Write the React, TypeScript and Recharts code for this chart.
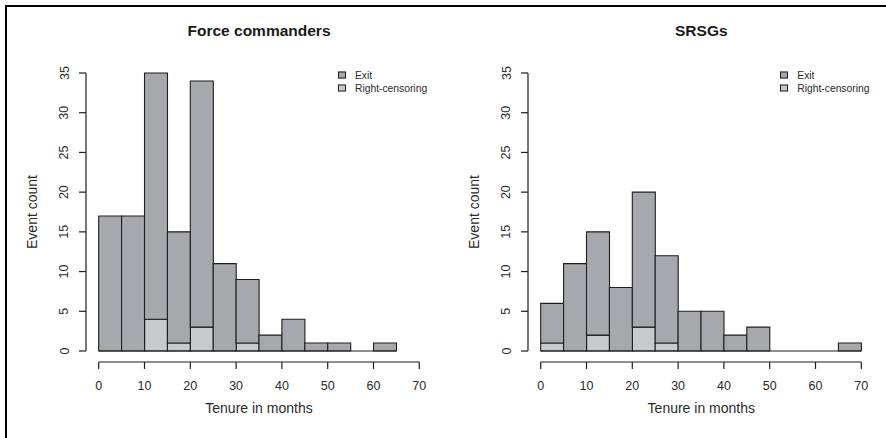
import React from "react";
import { BarChart, Bar, XAxis, YAxis, ReferenceLine } from "recharts";

// histogram bins, 5 months wide
const BIN_STARTS = [0, 5, 10, 15, 20, 25, 30, 35, 40, 45, 50, 55, 60, 65];
const X_TICKS = [0, 10, 20, 30, 40, 50, 60, 70];
const Y_TICKS = [0, 5, 10, 15, 20, 25, 30, 35];

// Force commanders
const FC_EXIT = [17, 17, 31, 14, 31, 11, 8, 2, 4, 1, 1, 0, 1, 0];
const FC_CENSORED = [0, 0, 4, 1, 3, 0, 1, 0, 0, 0, 0, 0, 0, 0];

// SRSGs
const SRSG_EXIT = [5, 11, 13, 8, 17, 11, 5, 5, 2, 3, 0, 0, 0, 1];
const SRSG_CENSORED = [1, 0, 2, 0, 3, 1, 0, 0, 0, 0, 0, 0, 0, 0];

const FONT = '"Liberation Sans", Arial, Helvetica, sans-serif';
const DARK = "#a7a8ab";
const LIGHT = "#c8c9cb";
const EDGE = "#1e1e1e";
const INK = "#2a2a2a";

const PANEL_W = 443;
const PANEL_H = 438;
const PLOT_LEFT = 98.7;
const PLOT_RIGHT = 419.3;
const PLOT_TOP = 73;
const PLOT_BOTTOM = 351;

const YTick = ({ x, y, payload }: any) => (
  <text
    x={x}
    y={y}
    transform={`rotate(-90 ${x} ${y})`}
    textAnchor="middle"
    fontSize={12.5}
    fontFamily={FONT}
    fill={INK}
  >
    {payload.value}
  </text>
);

function Panel({
  left,
  title,
  exit,
  censored,
}: {
  left: number;
  title: string;
  exit: number[];
  censored: number[];
}) {
  const data = BIN_STARTS.map((start, i) => ({
    start,
    bin: `${start}-${start + 5}`,
    exit: exit[i],
    censored: censored[i],
  }));
  // last drawn bin end (R draws empty bins as a flat line)
  let last = 0;
  data.forEach((d, i) => {
    if (d.exit + d.censored > 0) last = i;
  });
  const histEnd = BIN_STARTS[last] + 5;
  const midX = (PLOT_LEFT + PLOT_RIGHT) / 2;

  return (
    <div style={{ position: "absolute", left, top: 0, width: PANEL_W, height: PANEL_H }}>
      <BarChart
        width={PANEL_W}
        height={PANEL_H}
        data={data}
        barCategoryGap={0}
        barGap={0}
        margin={{ top: PLOT_TOP, right: PANEL_W - PLOT_RIGHT, bottom: 27, left: 0 }}
      >
        <XAxis dataKey="bin" hide height={0} />
        <XAxis
          xAxisId="num"
          dataKey="start"
          type="number"
          domain={[0, 70]}
          ticks={X_TICKS}
          interval={0}
          height={PANEL_H - 27 - PLOT_BOTTOM}
          tickSize={7}
          tickMargin={23}
          axisLine={{ stroke: EDGE, strokeWidth: 1.2, transform: "translate(0, 11)" }}
          tickLine={{ stroke: EDGE, strokeWidth: 1.2, transform: "translate(0, 11)" }}
          tick={{ fontSize: 12.5, fontFamily: FONT, fill: INK }}
        />
        <YAxis
          domain={[0, 35]}
          ticks={Y_TICKS}
          interval={0}
          width={PLOT_LEFT}
          tickSize={7}
          tickMargin={23.2}
          axisLine={{ stroke: EDGE, strokeWidth: 1.2, transform: "translate(-12.7, 0)" }}
          tickLine={{ stroke: EDGE, strokeWidth: 1.2, transform: "translate(-12.7, 0)" }}
          tick={<YTick />}
        />
        <Bar
          dataKey="censored"
          stackId="a"
          fill={LIGHT}
          stroke={EDGE}
          strokeWidth={1.1}
          isAnimationActive={false}
        />
        <Bar
          dataKey="exit"
          stackId="a"
          fill={DARK}
          stroke={EDGE}
          strokeWidth={1.1}
          isAnimationActive={false}
        />
        <ReferenceLine
          xAxisId="num"
          segment={[
            { x: 0, y: 0 },
            { x: histEnd, y: 0 },
          ]}
          stroke={EDGE}
          strokeWidth={1.1}
        />
      </BarChart>

      <div
        style={{
          position: "absolute",
          left: midX,
          top: 31,
          transform: "translate(-50%, -50%)",
          fontFamily: FONT,
          fontWeight: "bold",
          fontSize: 15.5,
          color: "#1a1a1a",
          whiteSpace: "nowrap",
        }}
      >
        {title}
      </div>
      <div
        style={{
          position: "absolute",
          left: midX,
          top: 408,
          transform: "translate(-50%, -50%)",
          fontFamily: FONT,
          fontSize: 14,
          color: INK,
          whiteSpace: "nowrap",
        }}
      >
        Tenure in months
      </div>
      <div
        style={{
          position: "absolute",
          left: 32,
          top: (PLOT_TOP + PLOT_BOTTOM) / 2,
          transform: "translate(-50%, -50%) rotate(-90deg)",
          fontFamily: FONT,
          fontSize: 14,
          color: INK,
          whiteSpace: "nowrap",
        }}
      >
        Event count
      </div>
      {[
        { label: "Exit", color: DARK },
        { label: "Right-censoring", color: LIGHT },
      ].map((item, i) => (
        <div
          key={item.label}
          style={{
            position: "absolute",
            left: 338,
            top: 75 + i * 12.5,
            transform: "translateY(-50%)",
            display: "flex",
            alignItems: "center",
            fontFamily: FONT,
            fontSize: 10.3,
            color: INK,
            whiteSpace: "nowrap",
          }}
        >
          <span
            style={{
              display: "inline-block",
              width: 6,
              height: 5,
              background: item.color,
              border: `1px solid ${EDGE}`,
              marginRight: 9,
            }}
          />
          {item.label}
        </div>
      ))}
    </div>
  );
}

export default function App() {
  return (
    <div
      style={{
        position: "absolute",
        left: 0,
        top: 0,
        width: 886,
        height: 438,
        background: "#fff",
        overflow: "hidden",
      }}
    >
      <div style={{ position: "absolute", left: 5, top: 5, width: 2, height: 433, background: "#000" }} />
      <div style={{ position: "absolute", left: 5, top: 5, width: 881, height: 2, background: "#000" }} />
      <Panel left={0} title="Force commanders" exit={FC_EXIT} censored={FC_CENSORED} />
      <Panel left={442.3} title="SRSGs" exit={SRSG_EXIT} censored={SRSG_CENSORED} />
    </div>
  );
}
